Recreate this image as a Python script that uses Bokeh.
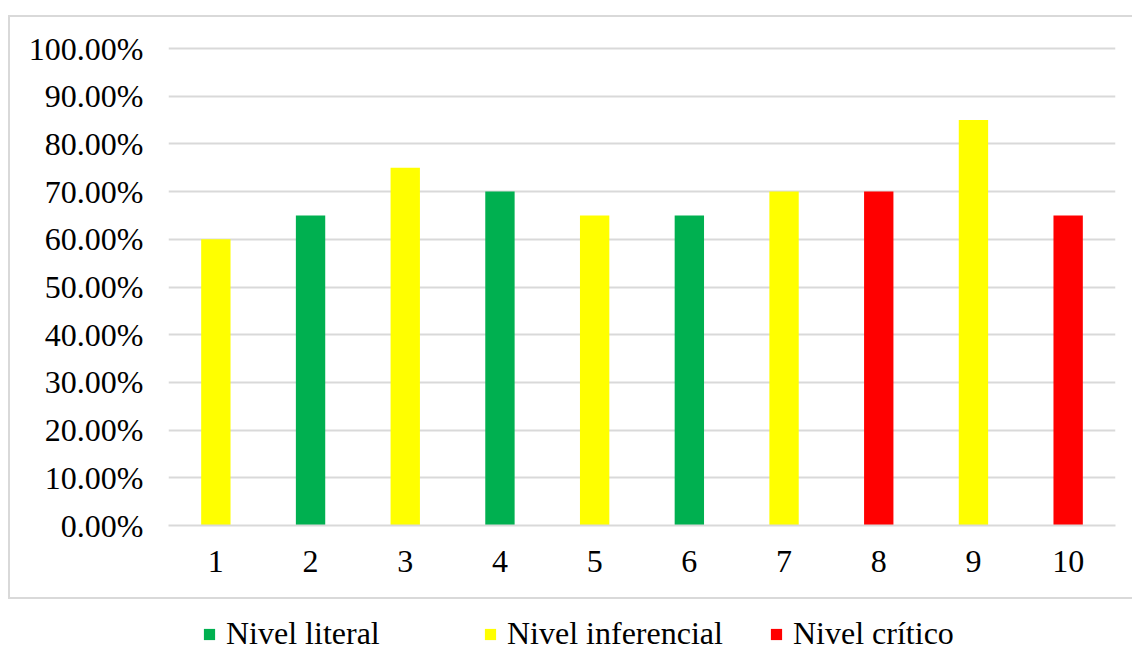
from bokeh.plotting import figure
from bokeh.layouts import column
from bokeh.models import (ColumnDataSource, FactorRange, Range1d, NumeralTickFormatter,
                          Legend, LegendItem, FixedTicker)
from bokeh.embed import file_html
from bokeh.resources import INLINE

categories = ["1", "2", "3", "4", "5", "6", "7", "8", "9", "10"]
values = [0.60, 0.65, 0.75, 0.70, 0.65, 0.65, 0.70, 0.70, 0.85, 0.65]
levels = ["Nivel inferencial", "Nivel literal", "Nivel inferencial", "Nivel literal",
          "Nivel inferencial", "Nivel literal", "Nivel inferencial", "Nivel crítico",
          "Nivel inferencial", "Nivel crítico"]
level_names = ["Nivel literal", "Nivel inferencial", "Nivel crítico"]
level_colors = ["#00B050", "#FFFF00", "#FF0000"]
y_ticks = [0.0, 0.1, 0.2, 0.3, 0.4, 0.5, 0.6, 0.7, 0.8, 0.9, 1.0]

FONT = "Liberation Serif"
GRID = "#d9d9d9"
FS = "32px"

border_css = {"box-sizing": "content-box",
              "border-top": f"2px solid {GRID}", "border-left": f"2px solid {GRID}",
              "border-bottom": f"2px solid {GRID}"}

p = figure(width=1122, height=580, x_range=FactorRange(*categories), y_range=Range1d(0, 1.0084),
           output_backend="svg", toolbar_location=None,
           min_border_left=158, min_border_right=19, min_border_top=27, min_border_bottom=76,
           margin=(15, 0, 0, 8), styles=border_css)
p.outline_line_color = None
p.background_fill_color = "white"
p.border_fill_color = "white"

for name, color in zip(level_names, level_colors):
    xs = [c for c, l in zip(categories, levels) if l == name]
    ys = [v for v, l in zip(values, levels) if l == name]
    src = ColumnDataSource(dict(x=xs, top=ys))
    p.vbar(x="x", top="top", width=0.31, source=src, fill_color=color, line_color=None)

p.yaxis.ticker = FixedTicker(ticks=y_ticks)
p.yaxis.formatter = NumeralTickFormatter(format="0.00%")
p.yaxis.axis_line_color = None
p.yaxis.major_tick_line_color = None
p.yaxis.minor_tick_line_color = None
p.yaxis.major_label_standoff = 19
p.yaxis.major_label_text_font = FONT
p.yaxis.major_label_text_font_size = FS
p.yaxis.major_label_text_color = "black"

p.xaxis.axis_line_color = GRID
p.xaxis.axis_line_width = 2
p.xaxis.major_tick_line_color = None
p.xaxis.minor_tick_line_color = None
p.xaxis.major_label_standoff = 19
p.xaxis.major_label_text_font = FONT
p.xaxis.major_label_text_font_size = FS
p.xaxis.major_label_text_color = "black"

p.xgrid.grid_line_color = None
p.ygrid.grid_line_color = GRID
p.ygrid.grid_line_width = 2

# legend strip below the bordered chart area
lg = figure(width=1132, height=51, x_range=Range1d(0, 1), y_range=Range1d(0, 1),
            output_backend="svg", toolbar_location=None,
            x_axis_location=None, y_axis_location=None,
            min_border_left=158, min_border_right=17,
            min_border_top=0, min_border_bottom=0)
lg.outline_line_color = None
lg.grid.visible = False
lg.background_fill_color = "white"
lg.border_fill_color = "white"

xs_leg = [44, 325, 611]
for name, color, lx in zip(level_names, level_colors, xs_leg):
    # zero-height swatch renderer: only its legend glyph is visible
    r = lg.vbar(x=[0.5], top=[0.0], bottom=[0.0], width=0.01, fill_color=color, line_color=None)
    leg = Legend(items=[LegendItem(label=name, renderers=[r])], location=(lx, -2),
                 orientation="horizontal", background_fill_alpha=0, border_line_alpha=0,
                 padding=0, margin=0, spacing=0, glyph_width=14, glyph_height=14,
                 label_standoff=10, label_text_font=FONT, label_text_font_size=FS,
                 label_text_color="black")
    lg.add_layout(leg, "center")

layout = column(p, lg, spacing=0)
open("out.html", "w").write(file_html(layout, INLINE))
